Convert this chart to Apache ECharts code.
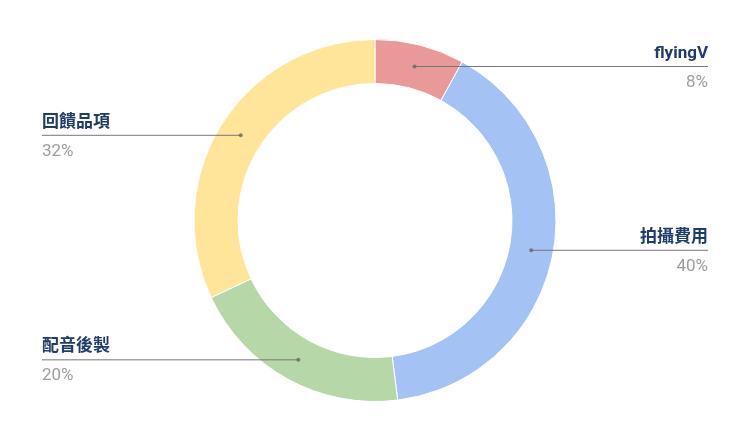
<!DOCTYPE html>
<html>
<head>
<meta charset="utf-8">
<script src="https://cdn.jsdelivr.net/npm/echarts@6/dist/echarts.min.js"></script>
<style>
html,body{margin:0;padding:0;background:#fff;}
#c{width:750px;height:441px;}
</style>
</head>
<body>
<div id="c"></div>
<script>
const categories = ['flyingV', '拍攝費用', '配音後製', '回饋品項'];
const values = [8, 40, 20, 32];
const colors = ['#ea9999', '#a4c2f4', '#b6d7a8', '#ffe599'];

const chart = echarts.init(document.getElementById('c'), null, {renderer: 'canvas'});
const total = values.reduce((a, b) => a + b, 0);
let acc = 0;
const mids = values.map(v => { const m = acc + v / 2; acc += v; return m / total * 100; });

const CX = 375, CY = 220.5, RO = 181, RI = 137, RM = 159;
const LW = 100;
const fontFam = 'Roboto, "Noto Sans CJK TC", sans-serif';

const pieData = categories.map((c, i) => ({name: c, value: values[i], itemStyle: {color: colors[i]}}));

chart.setOption({
  animation: false,
  backgroundColor: '#ffffff',
  polar: {center: [CX, CY], radius: RO},
  angleAxis: {type: 'value', min: 0, max: 100, startAngle: 90, clockwise: true, show: false},
  radiusAxis: {type: 'value', min: 0, max: RO, show: false},
  series: [
    {
      type: 'pie',
      center: [CX, CY],
      radius: [RI, RO],
      startAngle: 90,
      silent: true,
      label: {show: false},
      labelLine: {show: false},
      itemStyle: {borderColor: '#ffffff', borderWidth: 1},
      data: pieData,
      z: 1
    },
    {
      type: 'pie',
      center: [CX, CY],
      radius: [0, RM],
      startAngle: 90,
      silent: true,
      itemStyle: {color: 'rgba(0,0,0,0)'},
      data: categories.map((c, i) => ({name: c, value: values[i]})),
      label: {
        show: true,
        position: 'outside',
        alignTo: 'edge',
        edgeDistance: 42,
        distanceToLabelLine: -LW,
        formatter: p => '{n|' + p.name + '}\n{p|' + Math.round(p.percent) + '%}',
        rich: {
          n: {fontSize: 17, fontWeight: 'bold', color: '#1f3d6b', fontFamily: fontFam, lineHeight: 32, width: LW},
          p: {fontSize: 17, color: '#9e9e9e', fontFamily: fontFam, lineHeight: 26, width: LW}
        }
      },
      labelLine: {show: true, length: 0, length2: 10, lineStyle: {color: '#777777', width: 1}},
      z: 2
    },
    {
      type: 'scatter',
      coordinateSystem: 'polar',
      symbol: 'circle',
      symbolSize: 4,
      silent: true,
      itemStyle: {color: '#666666'},
      data: mids.map(m => [RM, m]),
      z: 3
    }
  ]
});
</script>
</body>
</html>
